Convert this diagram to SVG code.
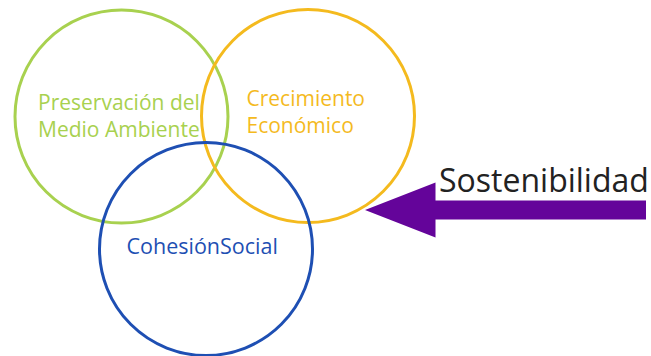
<svg xmlns="http://www.w3.org/2000/svg" width="651" height="356" viewBox="0 0 651 356">
<style>
.c{fill:none;stroke-width:3}
.t{font-family:"Open Sans","Noto Sans",sans-serif;font-size:21px}
</style>
<rect width="651" height="356" fill="#fff"/>
<g id="env">
<circle class="c" cx="121.5" cy="116.5" r="106.5" stroke="#A8D14F"/>
<text class="t" fill="#A8D14F" x="38" y="109.5">Preservación del</text>
<text class="t" fill="#A8D14F" x="38" y="136.5">Medio Ambiente</text>
</g>
<g id="eco">
<circle class="c" cx="308" cy="116" r="106.5" stroke="#F4BA1E"/>
<text class="t" fill="#F4BA1E" x="246.5" y="106">Crecimiento</text>
<text class="t" fill="#F4BA1E" x="246.5" y="133">Económico</text>
</g>
<g id="soc">
<circle class="c" cx="206" cy="249" r="106.5" stroke="#1E4FB3"/>
<text class="t" fill="#1E4FB3" x="126.5" y="254" style="font-size:21.5px">CohesiónSocial</text>
</g>
<g id="connectors">
<polygon points="365,210 435.5,182.5 435.5,200.5 646,200.5 646,219.5 435.5,219.5 435.5,237.5" fill="#64049A"/>
</g>
<g id="label">
<text x="439" y="191.5" font-family="'Open Sans','Noto Sans',sans-serif" font-size="32" fill="#222">Sostenibilidad</text>
</g>
</svg>
